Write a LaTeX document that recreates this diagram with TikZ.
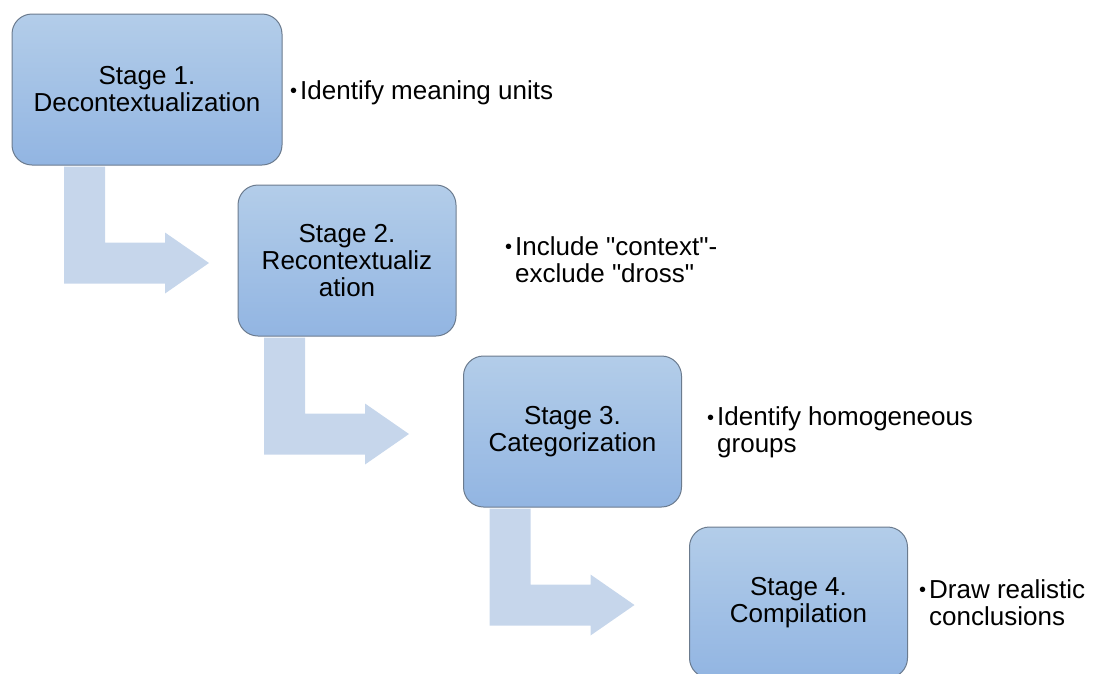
\documentclass[tikz,border=0pt]{standalone}
\usepackage{fontspec}
\setmainfont{Liberation Sans}
\usetikzlibrary{calc}

\definecolor{boxtop}{HTML}{B3CDE9}
\definecolor{boxbot}{HTML}{92B5E2}
\definecolor{boxline}{HTML}{6B7B8E}
\definecolor{arrowfill}{HTML}{C6D6EB}

% small bullet hanging left of a note
\newcommand{\notebullet}{\llap{\raisebox{1.5pt}{\fontsize{20}{20}\selectfont\textbullet}\hspace{3pt}}}

% bent arrow leaving the bottom of a stage box
\newcommand{\stagearrow}[1]{%
  \fill[arrowfill] ($(#1.south)+(-83,1)$) -- ++(41,0) -- ++(0,76) -- ++(60,0) -- ++(0,-10)
    -- ++(44,30.5) -- ++(-44,30.5) -- ++(0,-10) -- ++(-101,0) -- cycle;}

\begin{document}
\begin{tikzpicture}[
    x=1pt, y=-1pt,
    stage/.style={draw=boxline, line width=1pt, rounded corners=20pt,
      top color=boxtop, bottom color=boxbot, minimum width=218pt,
      minimum height=151pt, align=center, inner sep=2pt,
      font=\fontsize{26}{27}\selectfont},
    note/.style={anchor=west, align=left, inner sep=0pt,
      font=\fontsize{26}{27}\selectfont}
]
\useasboundingbox (0,0) rectangle (1095,673);

% Stages
\node[stage, minimum width=270pt] (s1) at (147,89.5) {Stage 1.\\Decontextualization};
\node[stage] (s2) at (347,260.5) {Stage 2.\\Recontextualiz\\ation};
\node[stage] (s3) at (572.5,431.5) {Stage 3.\\Categorization};
\node[stage] (s4) at (798.5,602.5) {Stage 4.\\Compilation};

% Notes
\node[note] (n1) at (300,92.5) {\notebullet Identify meaning units};
\node[note] (n2) at (515,259.5) {\notebullet Include \textquotedbl context\textquotedbl -\\exclude \textquotedbl dross\textquotedbl};
\node[note] (n3) at (717,432.5) {\notebullet Identify homogeneous\\groups};
\node[note] (n4) at (929,602.5) {\notebullet Draw realistic\\conclusions};

% Arrows
\stagearrow{s1}
\stagearrow{s2}
\stagearrow{s3}

\end{tikzpicture}
\end{document}
